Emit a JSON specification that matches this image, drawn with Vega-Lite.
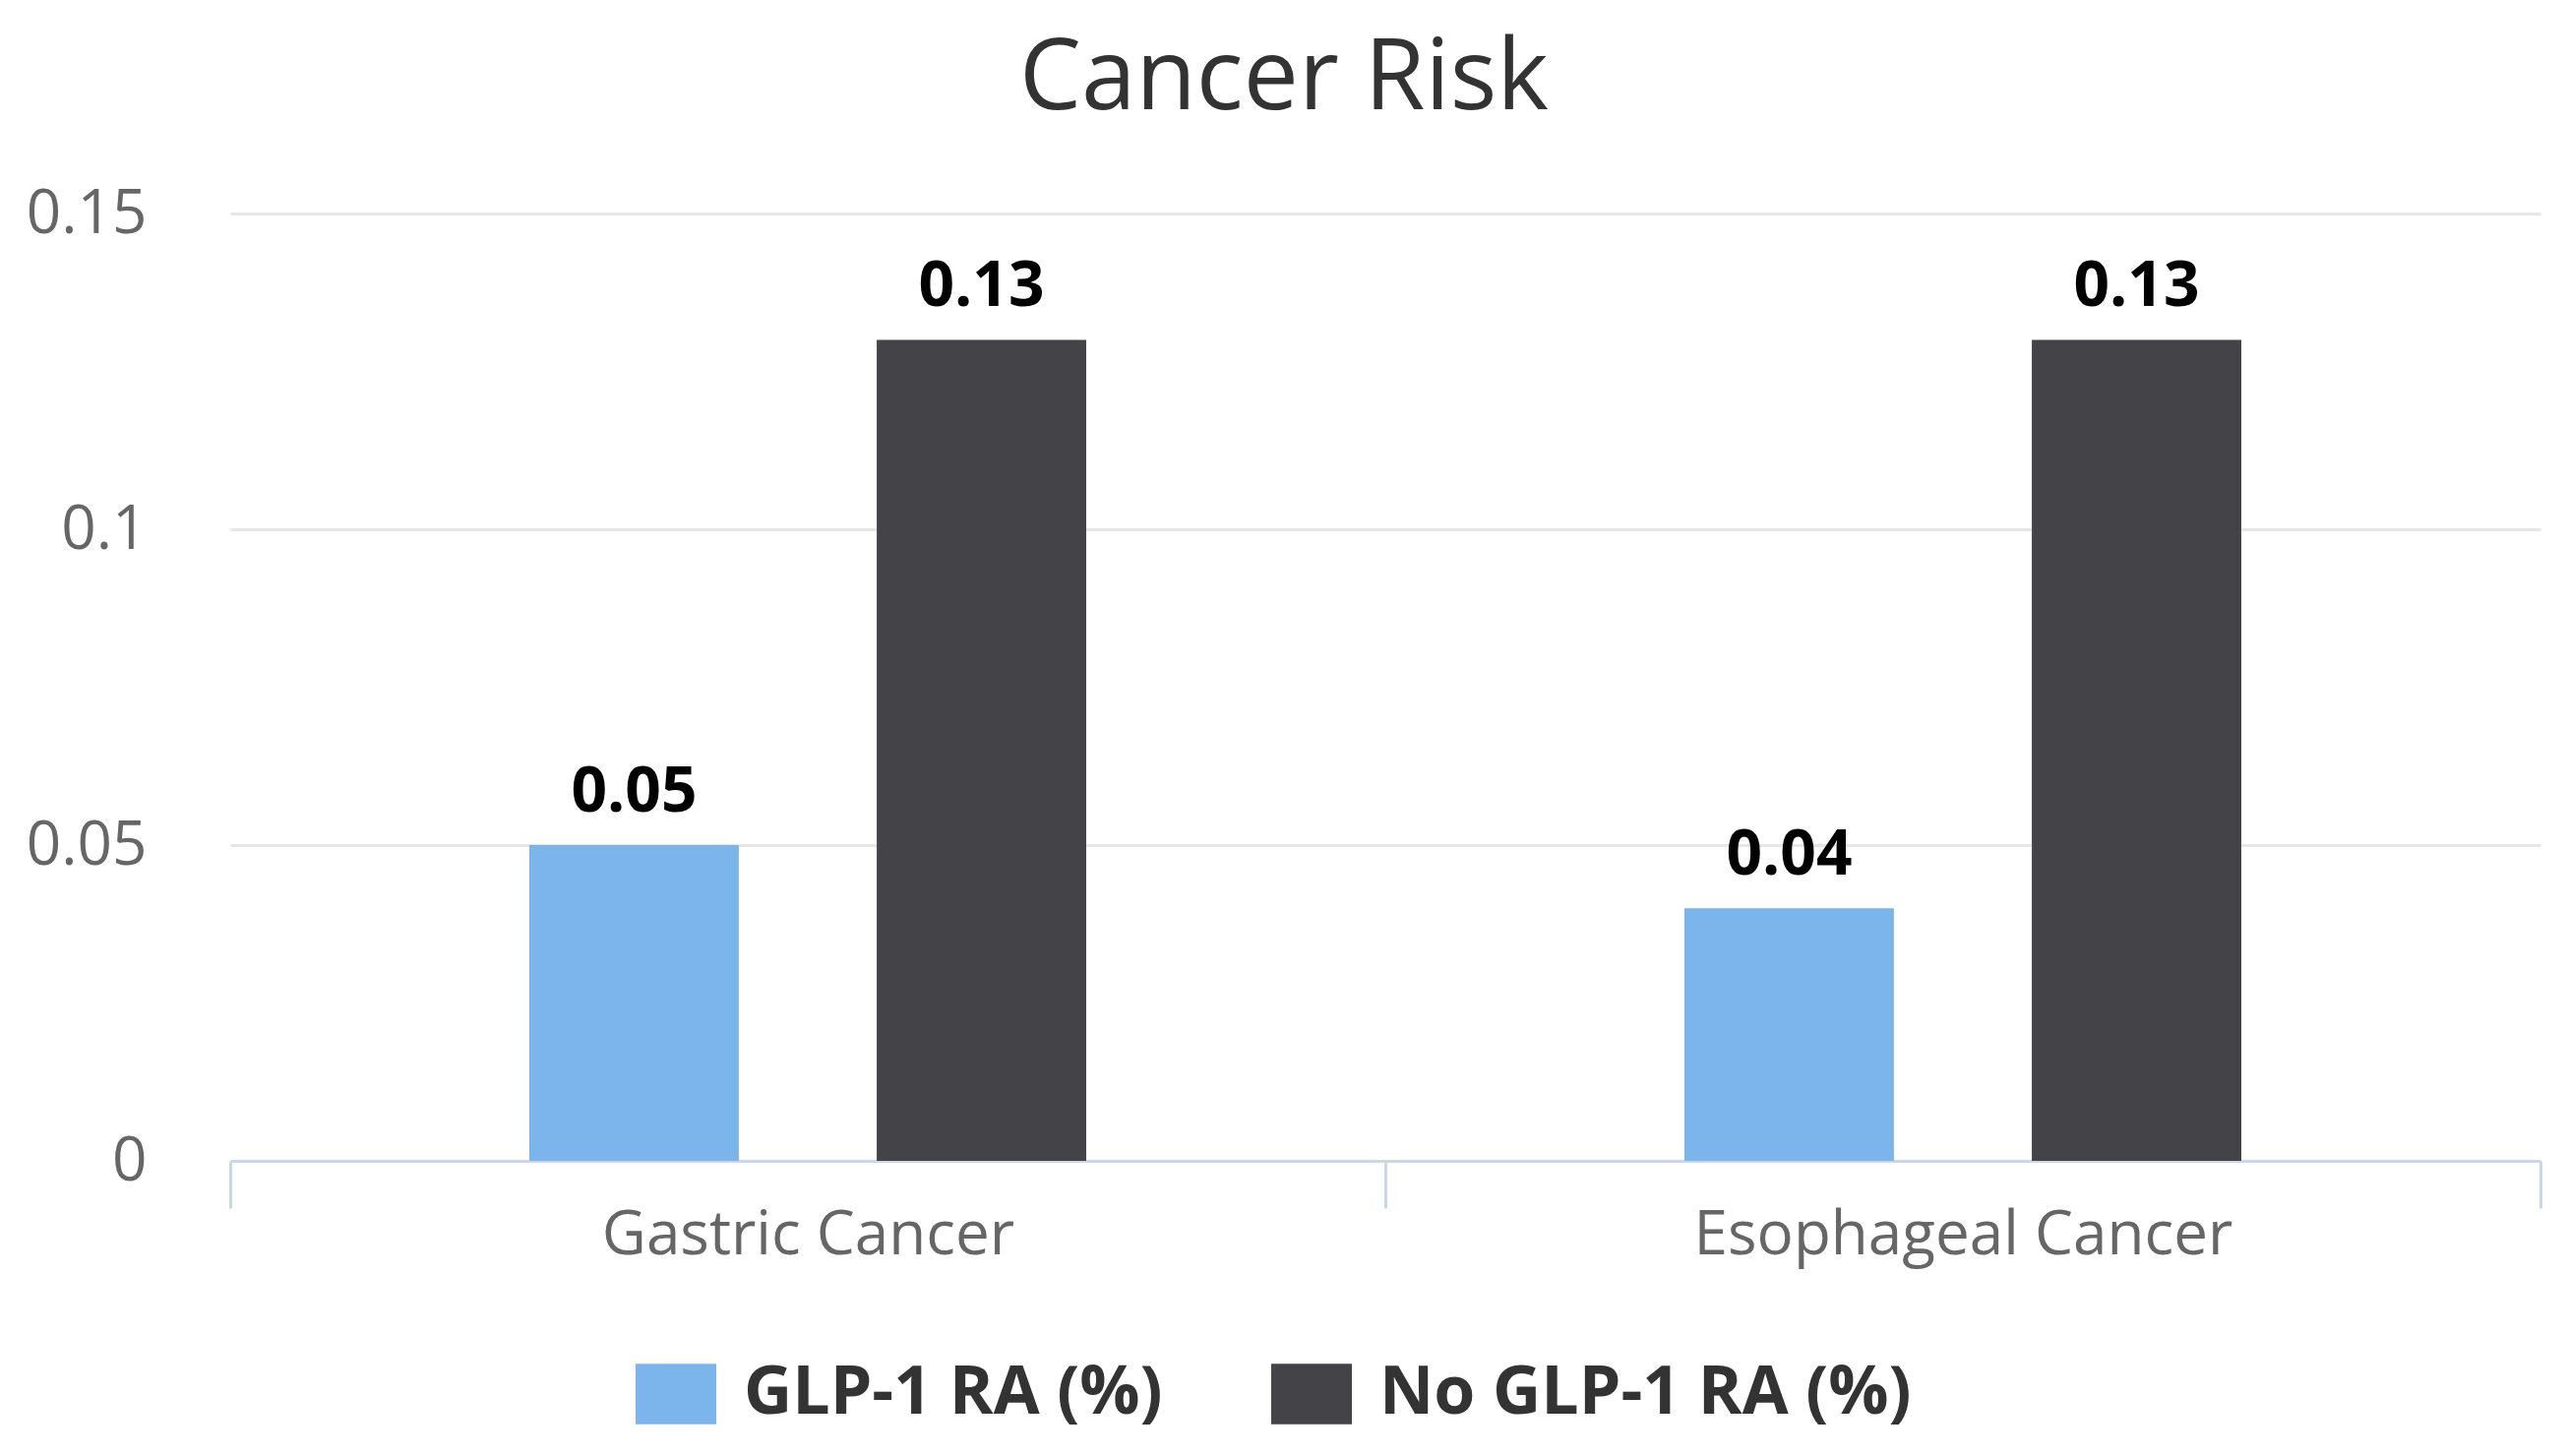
{
  "$schema": "https://vega.github.io/schema/vega-lite/v6.json",
  "autosize": {"type": "none"},
  "width": 2348,
  "height": 963,
  "padding": {"left": 234, "top": 217, "right": 26, "bottom": 300},
  "background": "white",
  "title": {
    "text": "Cancer Risk",
    "font": "Open Sans",
    "fontSize": 100,
    "fontWeight": "normal",
    "color": "#333333",
    "anchor": "middle",
    "frame": "bounds",
    "offset": 54
  },
  "data": {
    "values": [
      {"cancer": "Gastric Cancer", "group": "GLP-1 RA (%)", "risk": 0.05},
      {"cancer": "Gastric Cancer", "group": "No GLP-1 RA (%)", "risk": 0.13},
      {"cancer": "Esophageal Cancer", "group": "GLP-1 RA (%)", "risk": 0.04},
      {"cancer": "Esophageal Cancer", "group": "No GLP-1 RA (%)", "risk": 0.13}
    ]
  },
  "encoding": {
    "x": {
      "field": "cancer",
      "type": "nominal",
      "sort": null,
      "scale": {"paddingInner": 0, "paddingOuter": 0},
      "axis": {
        "title": null,
        "labelAngle": 0,
        "labelFont": "Open Sans",
        "labelFontSize": 62,
        "labelColor": "#666666",
        "labelPadding": -3,
        "labelLimit": 1000,
        "domainColor": "#ccd6eb",
        "domainWidth": 3,
        "tickColor": "#ccd6eb",
        "tickWidth": 3,
        "tickSize": 48,
        "tickBand": "extent",
        "grid": false
      }
    },
    "xOffset": {
      "field": "group",
      "type": "nominal",
      "sort": null,
      "scale": {"paddingInner": 0.397, "paddingOuter": 0.861}
    },
    "y": {
      "field": "risk",
      "type": "quantitative",
      "scale": {"domain": [0, 0.15], "nice": false},
      "axis": {
        "title": null,
        "values": [0, 0.05, 0.1, 0.15],
        "labelExpr": "'' + datum.value",
        "labelFont": "Open Sans",
        "labelFontSize": 62,
        "labelColor": "#666666",
        "labelPadding": 85,
        "ticks": false,
        "domain": false,
        "gridColor": "#e6e6e6",
        "gridWidth": 3
      }
    }
  },
  "layer": [
    {
      "mark": {"type": "bar"},
      "encoding": {
        "color": {
          "field": "group",
          "type": "nominal",
          "scale": {
            "domain": ["GLP-1 RA (%)", "No GLP-1 RA (%)"],
            "range": ["#7cb5ec", "#434348"]
          },
          "legend": {
            "title": null,
            "orient": "none",
            "legendX": 412,
            "legendY": 1159,
            "direction": "horizontal",
            "padding": 0,
            "symbolType": "M-1,-0.75H1V0.75H-1Z",
            "symbolSize": 6724,
            "symbolStrokeWidth": 0,
            "symbolOpacity": 1,
            "labelFont": "Open Sans",
            "labelFontSize": 68,
            "labelFontWeight": "bold",
            "labelColor": "#333333",
            "labelOffset": 28,
            "labelLimit": 1000,
            "columnPadding": 110
          }
        }
      }
    },
    {
      "mark": {
        "type": "text",
        "baseline": "alphabetic",
        "dy": -34,
        "font": "Open Sans",
        "fontSize": 64,
        "fontWeight": "bold",
        "color": "#000000"
      },
      "encoding": {
        "text": {"field": "risk", "type": "quantitative", "format": ".2f"}
      }
    }
  ],
  "config": {"view": {"stroke": null}}
}
